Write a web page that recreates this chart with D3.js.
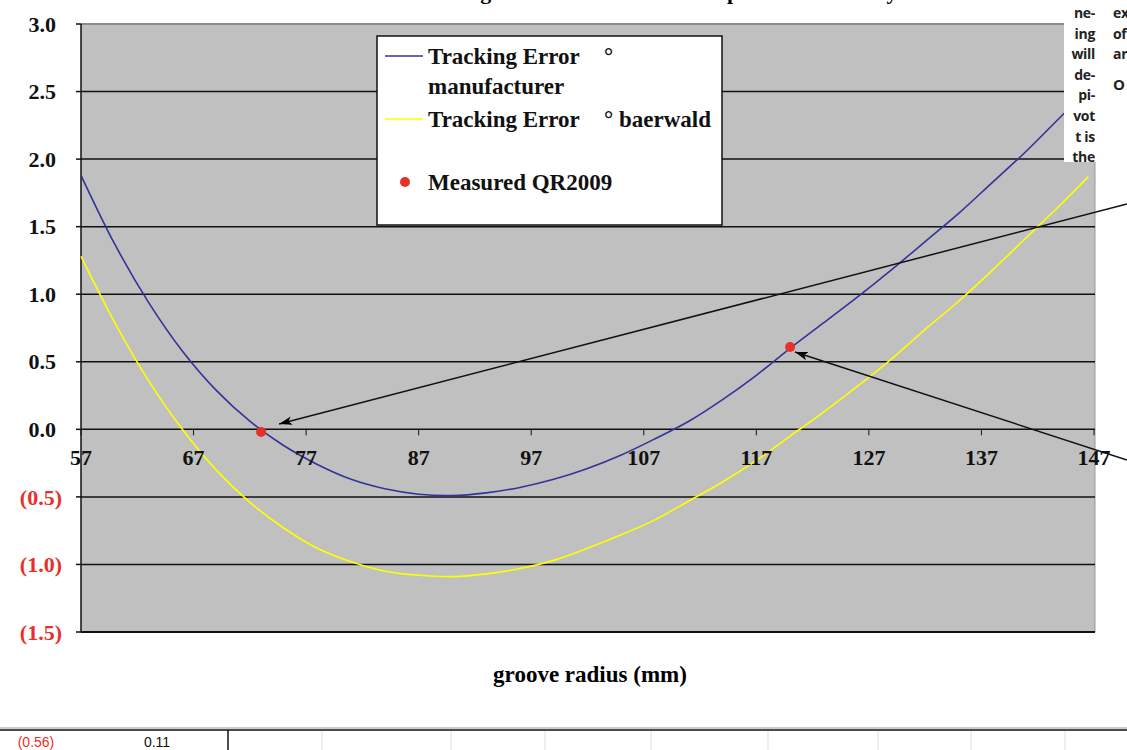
<!DOCTYPE html>
<html>
<head>
<meta charset="utf-8">
<script src="https://cdn.jsdelivr.net/npm/d3@7"></script>
<style>
  body { margin: 0; background: #fff; }
  .serif { font-family: "Liberation Serif", "Times New Roman", serif; font-weight: bold; }
  .col { font-family: "Open Sans", sans-serif; font-weight: 700; font-size: 14px; fill: #222; letter-spacing: -0.3px; }
  .cell { font-family: "Liberation Sans Narrow", "Liberation Sans", sans-serif; font-size: 13px; }
</style>
</head>
<body>
<div class="svg-container"></div>
<script>
var width = 1127;
var height = 750;

var plot = { "left": 81, "right": 1094, "top": 24, "bottom": 632 };

// groove radius in mm, read every 3 mm off the chart
var radius = [57, 60, 63, 66, 69, 72, 75, 78, 81, 84, 87, 90, 93, 96, 99, 102,
              105, 108, 111, 114, 117, 120, 123, 126, 129, 132, 135, 138, 141, 144, 147];

var errManufacturer = [1.88, 1.37, 0.94, 0.58, 0.29, 0.06, -0.12, -0.26, -0.37, -0.44, -0.48, -0.49,
                       -0.47, -0.43, -0.37, -0.29, -0.19, -0.07, 0.06, 0.22, 0.40, 0.60, 0.79, 0.98,
                       1.18, 1.39, 1.60, 1.83, 2.06, 2.31, 2.56];

var radiusBaerwald = [57, 60, 63, 66, 69, 72, 75, 78, 81, 84, 87, 90, 93, 96, 99, 102,
                      105, 108, 111, 114, 117, 120, 123, 126, 129, 132, 135, 138, 141, 144, 146.5];

var errBaerwald = [1.28, 0.79, 0.36, 0.00, -0.30, -0.54, -0.73, -0.88, -0.98, -1.05, -1.08, -1.09,
                   -1.07, -1.03, -0.97, -0.88, -0.78, -0.67, -0.53, -0.39, -0.23, -0.05, 0.13, 0.32,
                   0.52, 0.74, 0.95, 1.18, 1.42, 1.66, 1.87];

var measuredRadius = [73.0, 120.0];
var measuredErr = [-0.02, 0.61];

var xTicks = [57, 67, 77, 87, 97, 107, 117, 127, 137, 147];
var yTicks = [-1.5, -1.0, -0.5, 0.0, 0.5, 1.0, 1.5, 2.0, 2.5, 3.0];

// annotation arrows (data units): start -> tip
var arrowFrom = [[149.93, 1.668], [149.93, -0.227]];
var arrowTo = [[74.6, 0.04], [120.43, 0.572]];

// text from the page the chart sits on
var columnA = ["ne-", "ing", "will", "de-", "pi-", "vot", "t is", "the"];
var columnB = ["ex", "of", "ar"];

// spreadsheet row under the chart
var tableCells = ["(0.56)", "0.11"];
var tableCols = [322, 451, 545, 651, 768, 878, 971, 1065];

var red = "#e8302a";
var blue = "#333399";
var yellow = "#ffff00";

var svg = d3.select(".svg-container").append("svg")
            .attr("width", width)
            .attr("height", height);

var scaleX = d3.scaleLinear()
               .domain([57, 147])
               .range([plot.left, plot.right]);

var scaleY = d3.scaleLinear()
               .domain([-1.5, 3])
               .range([plot.bottom, plot.top]);

var defs = svg.append("defs");
defs.append("marker")
      .attr("id", "head")
      .attr("viewBox", "0 0 12 8")
      .attr("refX", 12)
      .attr("refY", 4)
      .attr("markerWidth", 13)
      .attr("markerHeight", 9)
      .attr("markerUnits", "userSpaceOnUse")
      .attr("orient", "auto")
    .append("path")
      .attr("d", "M0,0 L12,4 L0,8 L3,4 z")
      .attr("fill", "#000");

defs.append("clipPath")
      .attr("id", "colclip")
    .append("rect")
      .attr("x", 1040).attr("y", 0)
      .attr("width", 100).attr("height", 163);

// title (mostly above the visible page)
svg.append("text")
    .attr("class", "serif")
    .attr("x", 406)
    .attr("y", -1)
    .style("font-size", "22px")
    .text("Tracking Error over Radius: Comparison Geometry");

// plot background
svg.append("rect")
    .attr("x", plot.left)
    .attr("y", plot.top)
    .attr("width", plot.right + 1 - plot.left)
    .attr("height", plot.bottom - plot.top)
    .attr("fill", "#c0c0c0");

svg.append("line")
    .attr("x1", plot.right + 1).attr("x2", plot.right + 1)
    .attr("y1", plot.top).attr("y2", plot.bottom)
    .attr("stroke", "#999").attr("stroke-width", 1);

svg.append("line")
    .attr("x1", plot.left).attr("x2", plot.right + 1)
    .attr("y1", scaleY(3)).attr("y2", scaleY(3))
    .attr("stroke", "#8a8a8a").attr("stroke-width", 2);

// horizontal gridlines
svg.append("g")
    .attr("class", "grid")
  .selectAll("line")
  .data(yTicks.filter(function(d) { return d < 3; }))
  .enter()
  .append("line")
    .attr("x1", plot.left)
    .attr("x2", plot.right + 1)
    .attr("y1", function(d) { return scaleY(d); })
    .attr("y2", function(d) { return scaleY(d); })
    .attr("stroke", "#111")
    .attr("stroke-width", function(d) { return d == -1.5 ? 2 : 1.5; });

// y axis line + ticks
svg.append("line")
    .attr("x1", plot.left).attr("x2", plot.left)
    .attr("y1", plot.top).attr("y2", plot.bottom)
    .attr("stroke", "#111").attr("stroke-width", 1.5);

svg.append("g")
  .selectAll("line")
  .data(yTicks)
  .enter()
  .append("line")
    .attr("x1", plot.left - 5).attr("x2", plot.left)
    .attr("y1", function(d) { return scaleY(d); })
    .attr("y2", function(d) { return scaleY(d); })
    .attr("stroke", "#111").attr("stroke-width", 1.5);

// x ticks hang off the zero line
svg.append("g")
  .selectAll("line")
  .data(xTicks)
  .enter()
  .append("line")
    .attr("x1", function(d) { return scaleX(d); })
    .attr("x2", function(d) { return scaleX(d); })
    .attr("y1", scaleY(0))
    .attr("y2", scaleY(0) + 6)
    .attr("stroke", "#111").attr("stroke-width", 1);

// curves
function drawLine(xs, ys, stroke) {
  var line = d3.line()
               .x(function(d, i) { return scaleX(xs[i]); })
               .y(function(d) { return scaleY(d); })
               .curve(d3.curveCatmullRom);

  svg.append("path")
      .datum(ys)
      .attr("fill", "none")
      .attr("stroke", stroke)
      .attr("stroke-width", 1.6)
      .attr("d", line);
};

drawLine(radiusBaerwald, errBaerwald, yellow);
drawLine(radius, errManufacturer, blue);

svg.append("g")
  .selectAll("circle")
  .data(measuredErr)
  .enter()
  .append("circle")
    .attr("cx", function(d, i) { return scaleX(measuredRadius[i]); })
    .attr("cy", function(d) { return scaleY(d); })
    .attr("r", 5)
    .attr("fill", red);

// column of page text covering the top right corner
svg.append("rect")
    .attr("x", 1064).attr("y", 0)
    .attr("width", width - 1064).attr("height", 162)
    .attr("fill", "#fff");

var col = svg.append("g").attr("clip-path", "url(#colclip)");

col.selectAll(".a")
    .data(columnA)
    .enter()
    .append("text")
      .attr("class", "col")
      .attr("x", 1095)
      .attr("y", function(d, i) { return 18 + i * 20.6; })
      .attr("text-anchor", "end")
      .text(function(d) { return d; });

col.selectAll(".b")
    .data(columnB)
    .enter()
    .append("text")
      .attr("class", "col")
      .attr("x", 1113)
      .attr("y", function(d, i) { return 18 + i * 20.6; })
      .text(function(d) { return d; });

col.append("text")
    .attr("class", "col")
    .attr("x", 1113)
    .attr("y", 90)
    .style("font-size", "15px")
    .text("O");

// y labels, negatives in red parentheses
svg.append("g")
  .selectAll("text")
  .data(yTicks)
  .enter()
  .append("text")
    .attr("class", "serif")
    .attr("x", function(d) { return d < 0 ? 62 : 56; })
    .attr("y", function(d) { return scaleY(d); })
    .attr("dy", "0.35em")
    .attr("text-anchor", "end")
    .attr("fill", function(d) { return d < 0 ? red : "#111"; })
    .style("font-size", "22px")
    .text(function(d) {
      var f = d3.format(".1f");
      return d < 0 ? "(" + f(-d) + ")" : f(d);
    });

// x labels
svg.append("g")
  .selectAll("text")
  .data(xTicks)
  .enter()
  .append("text")
    .attr("class", "serif")
    .attr("x", function(d) { return scaleX(d); })
    .attr("y", scaleY(0) + 36)
    .attr("text-anchor", "middle")
    .attr("fill", "#111")
    .style("font-size", "22px")
    .text(function(d) { return d; });

svg.append("text")
    .attr("class", "serif")
    .attr("x", 590)
    .attr("y", 682)
    .attr("text-anchor", "middle")
    .style("font-size", "23px")
    .text("groove radius (mm)");

// arrows pointing at the measured points
svg.append("g")
  .selectAll("line")
  .data(arrowFrom)
  .enter()
  .append("line")
    .attr("x1", function(d) { return scaleX(d[0]); })
    .attr("y1", function(d) { return scaleY(d[1]); })
    .attr("x2", function(d, i) { return scaleX(arrowTo[i][0]); })
    .attr("y2", function(d, i) { return scaleY(arrowTo[i][1]); })
    .attr("stroke", "#111")
    .attr("stroke-width", 1.5)
    .attr("marker-end", "url(#head)");

// legend
var legend = svg.append("g").attr("class", "legend");

legend.append("rect")
    .attr("x", 377).attr("y", 36)
    .attr("width", 345).attr("height", 189)
    .attr("fill", "#fff")
    .attr("stroke", "#111")
    .attr("stroke-width", 1.5);

legend.append("line")
    .attr("x1", 385).attr("x2", 423).attr("y1", 56).attr("y2", 56)
    .attr("stroke", blue).attr("stroke-width", 1.6);

legend.append("line")
    .attr("x1", 385).attr("x2", 423).attr("y1", 119).attr("y2", 119)
    .attr("stroke", yellow).attr("stroke-width", 1.6);

legend.append("circle")
    .attr("cx", 405).attr("cy", 182).attr("r", 5)
    .attr("fill", red);

var legendText = [["Tracking Error", 428, 64], ["manufacturer", 428, 94], ["°", 604, 64],
                  ["Tracking Error", 428, 127], ["° baerwald", 604, 127], ["Measured QR2009", 428, 190]];

legend.selectAll("text")
    .data(legendText)
    .enter()
    .append("text")
      .attr("class", "serif")
      .attr("x", function(d) { return d[1]; })
      .attr("y", function(d) { return d[2]; })
      .attr("fill", "#111")
      .style("font-size", "23px")
      .text(function(d) { return d[0]; });

// table row at the bottom
svg.append("line")
    .attr("x1", 0).attr("x2", width).attr("y1", 728).attr("y2", 728)
    .attr("stroke", "#999").attr("stroke-width", 1);
svg.append("line")
    .attr("x1", 0).attr("x2", width).attr("y1", 730).attr("y2", 730)
    .attr("stroke", "#111").attr("stroke-width", 1.5);

svg.append("g")
  .selectAll("line")
  .data(tableCols)
  .enter()
  .append("line")
    .attr("x1", function(d) { return d; }).attr("x2", function(d) { return d; })
    .attr("y1", 731).attr("y2", height)
    .attr("stroke", "#ddd").attr("stroke-width", 1);

svg.append("line")
    .attr("x1", 228).attr("x2", 228).attr("y1", 730).attr("y2", height)
    .attr("stroke", "#111").attr("stroke-width", 1.5);

svg.append("g")
  .selectAll("text")
  .data(tableCells)
  .enter()
  .append("text")
    .attr("class", "cell")
    .attr("x", function(d, i) { return i == 0 ? 36 : 157; })
    .attr("y", 747)
    .attr("text-anchor", "middle")
    .attr("fill", function(d, i) { return i == 0 ? red : "#111"; })
    .style("font-size", "14px")
    .text(function(d) { return d; });
</script>
</body>
</html>
